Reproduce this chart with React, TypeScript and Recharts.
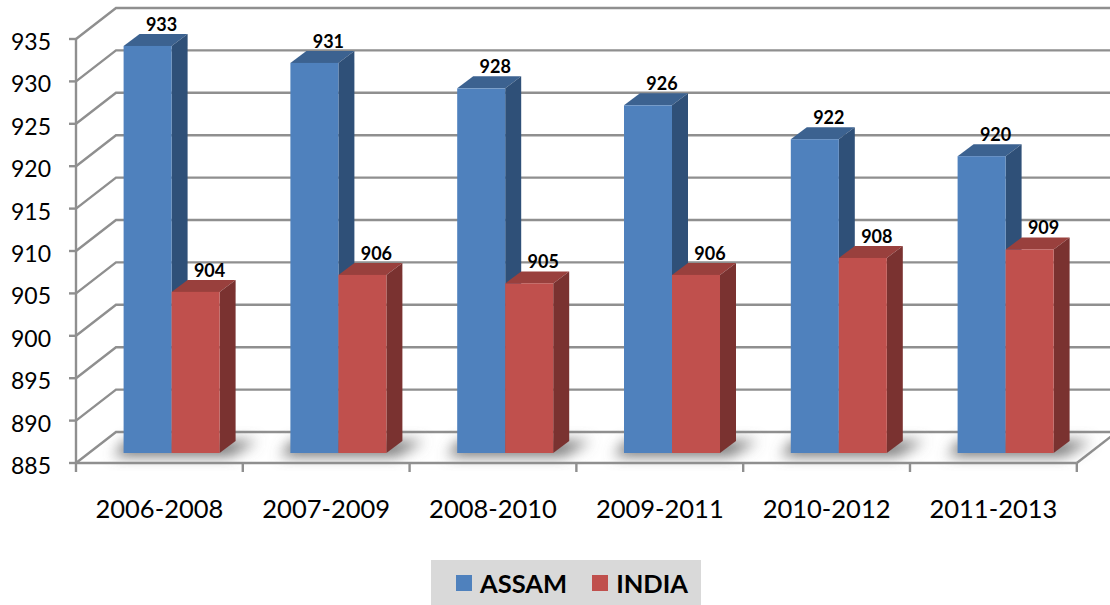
import React from 'react';
import { BarChart, Bar, XAxis, YAxis, CartesianGrid, Legend, LabelList } from 'recharts';

const periods = ['2006-2008', '2007-2009', '2008-2010', '2009-2011', '2010-2012', '2011-2013'];
const assamValues = [933, 931, 928, 926, 922, 920];
const indiaValues = [904, 906, 905, 906, 908, 909];
const yTicks = [885, 890, 895, 900, 905, 910, 915, 920, 925, 930, 935];

const chartData = periods.map((period, i) => ({
    period,
    assam: assamValues[i],
    india: indiaValues[i]
}));

const FONT = 'Lato, sans-serif';
const GRID = '#8f8f8f';

// 3D offsets of the fake perspective, relative to the plot area
const FRONT_DX = -12.6;
const FRONT_DY = 10;
const BACK_DX = 27.4;
const BACK_DY = -21;
const BAR_DX = 16;
const BAR_DY = 12;
const BAND = 1001 / 6;

const Box3D = ({ x, y, width, height, front, side, top }: any) => (
    <g>
        <polygon
            points={`${x},${y} ${x + BAR_DX},${y - BAR_DY} ${x + width + BAR_DX},${y - BAR_DY} ${x + width},${y}`}
            fill={top}
        />
        <polygon
            points={`${x + width},${y} ${x + width + BAR_DX},${y - BAR_DY} ${x + width + BAR_DX},${y + height - BAR_DY} ${x + width},${y + height}`}
            fill={side}
        />
        <rect x={x} y={y} width={width} height={height} fill={front} />
    </g>
);

// soft shadow lying on the floor around one group of bars
const FloorShadow = ({ x, y, width, height }: any) => {
    const b = y + height;
    return (
        <polygon
            points={`${x - 10},${b + 3} ${x + width + 10},${b + 3} ${x + width + 38},${b - 12} ${x + 2},${b - 12}`}
            fill="#707070"
            filter="url(#floorBlur)"
        />
    );
};

const ValueLabel = ({ x, y, width, value }: any) => (
    <text
        x={x + width / 2 + 14}
        y={y - 22}
        textAnchor="middle"
        dominantBaseline="central"
        fontFamily={FONT}
        fontSize={18}
        fontWeight={700}
        fill="#000"
    >
        {value}
    </text>
);

const GridLine = ({ x1, x2, y1, index }: any) => {
    const isFloor = y1 > 440;
    return (
        <g key={`grid-${y1}-${index}`}>
            <polyline
                points={`${x1 + FRONT_DX},${y1 + FRONT_DY} ${x1 + BACK_DX},${y1 + BACK_DY} ${x2 + 30},${y1 + BACK_DY}`}
                fill="none"
                stroke={GRID}
                strokeWidth={2.4}
            />
            {isFloor && (
                <line
                    x1={x2 + FRONT_DX}
                    y1={y1 + FRONT_DY}
                    x2={x2 + FRONT_DX + 40}
                    y2={y1 + FRONT_DY - 31}
                    stroke={GRID}
                    strokeWidth={2.4}
                />
            )}
        </g>
    );
};

const YTick = ({ x, y, payload }: any) => (
    <g>
        <line x1={x + FRONT_DX - 7} x2={x + FRONT_DX} y1={y + FRONT_DY} y2={y + FRONT_DY} stroke={GRID} strokeWidth={2.4} />
        <text
            x={x + FRONT_DX - 25}
            y={y + FRONT_DY + 2}
            textAnchor="end"
            dominantBaseline="central"
            fontFamily={FONT}
            fontSize={23}
            fill="#000"
        >
            {payload.value}
        </text>
    </g>
);

const XTick = ({ x, y, payload, index }: any) => {
    const cx = x + FRONT_DX;
    const axisY = y + FRONT_DY;
    return (
        <g>
            <line x1={cx - BAND / 2} x2={cx - BAND / 2} y1={axisY} y2={axisY + 9} stroke={GRID} strokeWidth={2.4} />
            {index === periods.length - 1 && (
                <line x1={cx + BAND / 2} x2={cx + BAND / 2} y1={axisY} y2={axisY + 9} stroke={GRID} strokeWidth={2.4} />
            )}
            <text
                x={cx}
                y={508}
                textAnchor="middle"
                dominantBaseline="central"
                fontFamily={FONT}
                fontSize={25.5}
                fill="#000"
            >
                {payload.value}
            </text>
        </g>
    );
};

const LegendBox = () => (
    <div
        style={{
            width: 245,
            height: 45,
            marginLeft: 431,
            paddingLeft: 25,
            background: '#d9d9d9',
            display: 'flex',
            alignItems: 'center',
            fontFamily: FONT,
            fontSize: 25.5,
            fontWeight: 700,
            color: '#000'
        }}
    >
        <span style={{ width: 16, height: 16, background: '#4f81bd', marginRight: 8 }} />
        <span style={{ marginRight: 25 }}>ASSAM</span>
        <span style={{ width: 16, height: 16, background: '#c0504d', marginRight: 8 }} />
        <span>INDIA</span>
    </div>
);

export default function App() {
    return (
        <div style={{ width: 1110, height: 605, background: '#fff' }}>
            <style>{`body { margin: 0; }`}</style>
            <BarChart
                width={1110}
                height={605}
                data={chartData}
                margin={{ top: 29, right: 20.6, bottom: 77, left: 28.6 }}
                barGap={0}
            >
                <defs>
                    <filter id="floorBlur" x="-30%" y="-100%" width="160%" height="300%">
                        <feGaussianBlur stdDeviation="7" />
                    </filter>
                </defs>
                <CartesianGrid vertical={false} horizontal={(props: any) => <GridLine {...props} />} />
                <XAxis
                    dataKey="period"
                    height={30}
                    interval={0}
                    tickLine={false}
                    tickSize={0}
                    tickMargin={0}
                    tick={<XTick />}
                    axisLine={{ stroke: GRID, strokeWidth: 2.4, transform: `translate(${FRONT_DX},${FRONT_DY})` }}
                />
                <XAxis dataKey="period" xAxisId="floor" hide />
                <YAxis
                    width={60}
                    domain={[885, 935]}
                    ticks={yTicks}
                    interval={0}
                    tickLine={false}
                    tickSize={0}
                    tickMargin={0}
                    tick={<YTick />}
                    axisLine={{ stroke: GRID, strokeWidth: 2.4, transform: `translate(${FRONT_DX},${FRONT_DY})` }}
                />
                <Legend
                    verticalAlign="bottom"
                    content={() => <LegendBox />}
                    wrapperStyle={{ bottom: 0, left: 0, width: 1110, height: 45 }}
                />
                <Bar
                    dataKey="assam"
                    xAxisId="floor"
                    barSize={96}
                    legendType="none"
                    isAnimationActive={false}
                    shape={(props: any) => <FloorShadow {...props} />}
                />
                <Bar
                    dataKey="assam"
                    name="ASSAM"
                    barSize={48}
                    isAnimationActive={false}
                    shape={(props: any) => <Box3D {...props} front="#4f81bd" side="#2f5078" top="#3c6290" />}
                >
                    <LabelList dataKey="assam" content={<ValueLabel />} />
                </Bar>
                <Bar
                    dataKey="india"
                    name="INDIA"
                    barSize={48}
                    isAnimationActive={false}
                    shape={(props: any) => <Box3D {...props} front="#c0504d" side="#7a3230" top="#99403d" />}
                >
                    <LabelList dataKey="india" content={<ValueLabel />} />
                </Bar>
            </BarChart>
        </div>
    );
}
